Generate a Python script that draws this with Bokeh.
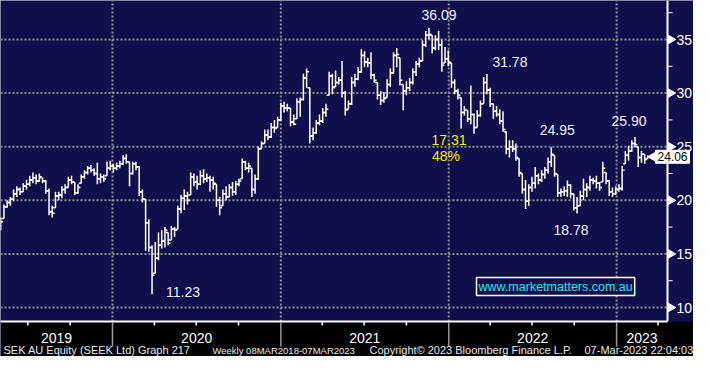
import numpy as np
import pandas as pd
from bokeh.plotting import figure
from bokeh.models import Range1d, Label, ColumnDataSource
from bokeh.core.properties import value
from bokeh.embed import file_html
from bokeh.resources import INLINE

# ---------------- data (weekly OHLC, SEK AU) ----------------
first_week = "2019-05-03"

opens = [
    17.6, 18.3, 19.4, 19.8, 20.1, 20.6, 21.0, 20.8, 21.3, 21.5, 21.9, 22.1, 21.8, 22.1, 21.8, 20.9, 18.9, 19.3, 20.4, 20.5,
    21.0, 21.2, 21.9, 21.7, 20.7, 21.6, 22.2, 22.6, 23.0, 22.8, 22.5, 22.0, 22.2, 22.3, 23.0,
    23.2, 23.0, 23.2, 23.4, 23.9, 23.6, 22.5, 23.4, 23.1, 20.8, 20.1, 17.9, 15.6, 13.2, 14.6, 15.8, 16.2, 17.0, 16.3, 17.3,
    17.3, 19.2, 20.2, 20.4, 20.5, 22.2, 21.7, 21.5, 22.3, 22.0, 22.1, 21.9, 21.5, 20.0,
    19.5, 20.6, 20.3, 21.2, 20.8, 21.5, 22.0, 23.6, 23.0, 23.0, 21.0, 22.0, 24.8, 25.3, 26.1, 25.9, 26.8, 26.8, 27.5, 28.8,
    28.6, 28.6, 27.3, 27.6, 29.2, 29.4, 31.4, 30.5, 26.0, 26.3, 27.2, 27.4, 28.2, 29.8,
    31.6, 30.6, 31.0, 31.2, 30.0, 28.5, 29.0, 31.0, 31.3, 32.0, 33.5, 32.9, 32.8, 31.7, 31.0, 29.8, 29.3, 29.6, 30.8, 31.9,
    33.5, 33.3, 30.8, 30.2, 30.5, 31.0, 32.0, 32.7, 33.0, 34.5, 35.4, 35.4, 34.2, 35.0, 34.5,
    32.8, 33.2, 32.8, 31.0, 30.2, 29.6, 28.2, 28.4, 27.6, 28.0, 26.8, 27.9, 29.0, 31.0, 30.3, 29.0, 28.3, 28.0, 27.4, 26.4,
    24.8, 25.0, 24.8, 23.9, 22.5, 21.0, 19.9, 21.2, 21.6, 22.3, 21.9, 22.4, 22.8, 23.6, 24.2, 22.4, 20.7, 20.8, 20.9, 21.4,
    20.6, 19.3, 19.5, 20.4, 21.0, 21.2, 21.9, 21.8, 21.6, 21.7, 22.6, 21.8, 20.8, 20.6, 21.0, 21.1, 23.4, 24.2, 24.6, 25.3,
    25.0, 24.0, 24.3, 23.9,
]
highs = [
    18.4, 19.6, 20.0, 20.3, 21.0, 21.3, 21.2, 21.6, 21.9, 22.3, 22.6, 22.4, 22.5, 22.1, 21.9, 21.1, 19.5, 20.8, 20.8, 21.3,
    21.5, 22.2, 22.3, 21.7, 21.5, 22.4, 22.8, 23.2, 23.3, 23.0, 23.5, 22.5, 22.4, 23.6, 23.7,
    23.4, 23.5, 23.7, 24.2, 24.3, 23.6, 23.6, 23.6, 23.2, 21.0, 20.1, 18.2, 15.8, 16.1, 17.0, 17.2, 17.5, 17.0, 17.6, 17.5,
    19.5, 20.5, 21.0, 20.8, 22.6, 22.5, 22.3, 22.8, 22.9, 22.5, 22.3, 22.2, 21.5, 20.3,
    21.0, 21.3, 21.5, 21.7, 21.8, 22.0, 23.9, 23.7, 23.5, 23.0, 22.4, 25.0, 25.5, 26.6, 26.6, 27.2, 27.5, 27.8, 29.1, 29.2,
    29.0, 28.6, 28.0, 29.5, 29.6, 31.8, 32.3, 30.5, 26.8, 27.5, 28.0, 28.6, 29.0, 32.0,
    31.8, 32.1, 31.5, 33.0, 30.2, 29.3, 31.5, 31.8, 32.4, 34.1, 33.9, 33.3, 33.8, 31.8, 31.0, 30.2, 30.1, 31.3, 32.3, 33.8,
    34.2, 33.3, 30.8, 31.1, 31.4, 32.3, 33.0, 33.3, 34.9, 35.8, 36.09, 35.4, 35.4, 35.8, 35.0,
    34.3, 34.0, 32.8, 31.3, 30.4, 29.6, 28.8, 28.4, 30.7, 28.1, 28.4, 29.3, 31.5, 31.78, 30.5, 29.0, 28.8, 28.5, 28.3, 26.4,
    25.6, 25.6, 25.3, 23.9, 22.5, 21.9, 21.5, 22.2, 23.1, 22.5, 22.8, 23.1, 24.0, 24.95, 24.2, 22.4, 21.1, 21.3, 21.85, 21.5,
    20.6, 20.3, 20.9, 22.0, 21.6, 22.3, 22.1, 22.3, 21.7, 23.6, 22.6, 21.9, 21.2, 21.3, 21.5, 23.2, 24.6, 25.1, 25.6, 25.90,
    25.0, 24.6, 24.3, 24.2,
]
lows = [
    17.2, 18.3, 19.3, 19.5, 19.9, 20.3, 20.5, 20.8, 21.0, 21.3, 21.6, 21.5, 21.7, 21.6, 20.6, 18.6, 18.4, 19.3, 20.0, 20.2,
    20.6, 21.2, 21.5, 20.5, 20.6, 21.6, 22.0, 22.4, 22.6, 22.3, 21.5, 21.6, 21.7, 22.3, 22.8,
    22.6, 22.8, 23.0, 23.3, 23.4, 21.3, 22.4, 22.8, 20.4, 19.8, 15.3, 15.2, 11.23, 13.2, 14.4, 15.5, 15.6, 15.8, 16.3, 16.6,
    17.3, 18.8, 19.1, 19.6, 20.5, 21.3, 21.0, 21.4, 21.6, 21.7, 20.8, 21.0, 19.4, 18.6,
    19.5, 20.0, 20.3, 20.4, 20.5, 21.3, 22.0, 22.8, 22.6, 20.3, 20.6, 21.9, 24.8, 25.3, 25.6, 25.8, 26.3, 26.8, 27.4, 28.2,
    28.3, 26.9, 27.0, 27.6, 27.8, 29.3, 30.5, 25.3, 25.6, 26.2, 27.0, 27.2, 27.8, 29.8,
    29.9, 30.6, 30.8, 29.6, 27.9, 28.5, 28.9, 30.6, 31.2, 31.9, 32.4, 32.4, 31.3, 31.0, 29.4, 28.9, 29.1, 29.6, 30.6, 31.8,
    32.4, 30.7, 28.4, 29.8, 30.2, 30.8, 31.6, 32.4, 33.0, 34.3, 35.0, 33.7, 34.0, 34.0, 32.0,
    32.8, 32.5, 30.5, 29.9, 29.4, 26.7, 27.9, 27.3, 27.1, 26.2, 26.8, 27.8, 29.0, 29.9, 28.7, 27.6, 27.8, 27.1, 26.4, 24.3,
    24.0, 24.5, 23.7, 22.2, 20.6, 19.2, 19.5, 20.8, 21.1, 21.5, 21.7, 22.0, 22.5, 23.1, 22.2, 20.3, 20.3, 20.4, 20.3, 20.2,
    19.05, 18.78, 19.5, 20.0, 20.3, 20.9, 21.5, 21.1, 20.9, 21.7, 21.5, 20.4, 20.3, 20.5, 20.8, 20.9, 23.4, 23.7, 24.5, 24.95,
    23.1, 23.5, 23.4, 23.9,
]
closes = [
    18.0, 19.4, 19.8, 20.1, 20.6, 21.0, 20.8, 21.3, 21.5, 21.9, 22.1, 21.8, 22.2, 21.8, 20.9, 18.9, 18.8, 20.4, 20.5, 21.0,
    21.2, 21.9, 21.7, 20.7, 21.2, 22.2, 22.6, 23.0, 22.8, 22.5, 22.0, 22.2, 22.0, 23.0, 23.2,
    23.0, 23.2, 23.4, 23.9, 23.6, 22.5, 23.4, 23.1, 20.8, 20.1, 17.9, 15.6, 13.0, 14.6, 15.8, 16.2, 17.2, 16.0, 17.3, 17.2,
    19.2, 20.2, 20.4, 20.0, 22.2, 21.7, 21.5, 22.3, 22.0, 22.1, 21.9, 21.6, 20.0, 19.3,
    20.6, 20.3, 21.2, 20.8, 21.5, 21.8, 23.6, 23.0, 23.2, 21.0, 22.0, 24.8, 25.3, 26.1, 25.9, 26.8, 26.7, 27.5, 28.8, 28.6,
    28.6, 27.3, 27.1, 29.2, 29.4, 31.4, 32.0, 26.0, 26.3, 27.2, 27.4, 28.2, 28.5, 31.6,
    30.5, 31.0, 31.2, 30.0, 28.4, 29.0, 31.0, 31.3, 32.0, 33.5, 32.9, 32.8, 31.7, 31.2, 29.8, 29.3, 29.5, 30.8, 31.9, 33.5,
    33.6, 31.2, 30.2, 30.5, 31.0, 32.0, 32.7, 33.0, 34.5, 35.4, 35.5, 34.2, 35.0, 34.5, 32.6,
    33.2, 32.9, 31.0, 30.2, 29.8, 28.2, 28.4, 27.6, 28.0, 26.8, 27.9, 29.0, 31.0, 30.3, 29.0, 28.3, 28.0, 27.4, 26.6, 24.8,
    25.0, 24.8, 24.0, 22.6, 21.0, 19.9, 21.2, 21.6, 22.3, 21.9, 22.4, 22.8, 23.6, 24.3, 22.5, 20.7, 20.8, 20.9, 21.4, 20.6,
    19.3, 19.5, 20.4, 21.0, 21.2, 21.9, 21.8, 21.6, 21.2, 23.0, 21.8, 20.8, 20.6, 21.0, 21.1, 22.8, 24.2, 24.6, 25.3, 25.2,
    24.0, 24.3, 23.8, 24.06,
]

y_ticks = [10, 15, 20, 25, 30, 35]
y_tick_labels = ["10", "15", "20", "25", "30", "35"]
y_minor_ticks = [12.5, 17.5, 22.5, 27.5, 32.5, 37.5]
year_labels = ["2019", "2020", "2021", "2022", "2023"]
year_starts = ["2020-01-01", "2021-01-01", "2022-01-01", "2023-01-01"]
quarter_ticks = ["2019-07-01", "2019-10-01", "2020-04-01", "2020-07-01", "2020-10-01",
                 "2021-04-01", "2021-07-01", "2021-10-01", "2022-04-01", "2022-07-01",
                 "2022-10-01", "2023-04-01"]

ann_text = ["36.09", "31.78", "24.95", "25.90", "18.78", "11.23"]
ann_week = [133, 151, 171, 197, 179, 47]
ann_price = [36.09, 31.78, 24.95, 25.90, 18.78, 11.23]
drop_text = ["17.31", "48%"]
last_price = "24.06"
footer = ["SEK AU Equity (SEEK Ltd) Graph 217", "Weekly 08MAR2018-07MAR2023",
          "Copyright\u00a9 2023 Bloomberg Finance L.P.", "07-Mar-2023 22:04:03"]
watermark = "www.marketmatters.com.au"

# ---------------- layout calibration (pixels of the picture) ----------------
W, H = 693, 356
PX_PER_YEAR = 168.0
MS_PER_PX = 365.25 * 86400000.0 / PX_PER_YEAR
PX_PER_UNIT = 10.72

def ms(s):
    return pd.Timestamp(s).value / 1e6

X0 = ms("2020-01-01") - 112 * MS_PER_PX

def px2x(px):          # picture x -> data x
    return X0 + px * MS_PER_PX

def px2y(py):          # picture y -> price
    return 35 - (py - 39) / PX_PER_UNIT

PLOT_R = 667           # right edge of price panel
PLOT_B = 321           # bottom edge of price panel

NAVY = "#100f4c"
GRID = "#8f8f8f"
FONT = "Liberation Sans"

dates = pd.date_range(first_week, periods=len(closes), freq="7D")
t = dates.values.astype("datetime64[ms]").astype("int64").astype(float)
tick = 2.4 * MS_PER_PX

p = figure(width=W, height=H, x_range=Range1d(px2x(0), px2x(W)), y_range=Range1d(px2y(H), px2y(0)),
           output_backend="svg", toolbar_location=None, x_axis_location=None,
           y_axis_location=None, min_border=0)
p.background_fill_color = NAVY
p.border_fill_color = NAVY
p.outline_line_color = None
p.xgrid.visible = False
p.ygrid.visible = False

x_left, x_right = px2x(0), px2x(PLOT_R - 1)
y_bottom, y_top = px2y(PLOT_B), px2y(0)

# grid (dotted)
p.segment(x0=[x_left] * len(y_ticks), y0=y_ticks, x1=[x_right] * len(y_ticks), y1=y_ticks,
          line_color=GRID, line_width=2, line_dash="2 2")
ys = [ms(s) for s in year_starts]
p.segment(x0=ys, y0=[y_bottom] * len(ys), x1=ys, y1=[y_top] * len(ys),
          line_color=GRID, line_width=2, line_dash="2 2")

# OHLC bars
src = ColumnDataSource(dict(t=t, t_l=t - tick, t_r=t + tick,
                            o=opens, h=highs, l=lows, c=closes))
p.segment(x0="t", y0="l", x1="t", y1="h", source=src, line_color="white", line_width=1.5)
p.segment(x0="t_l", y0="o", x1="t", y1="o", source=src, line_color="white", line_width=1.5)
p.segment(x0="t", y0="c", x1="t_r", y1="c", source=src, line_color="white", line_width=1.5)

# right price axis
ax_x = px2x(PLOT_R)
p.segment(x0=[ax_x], y0=[y_bottom], x1=[ax_x], y1=[y_top], line_color="white", line_width=2)
p.scatter(x=[px2x(PLOT_R + 3)] * len(y_ticks), y=y_ticks, marker="triangle", size=9,
          angle=-np.pi / 2, fill_color="white", line_color="white")
p.segment(x0=[ax_x] * len(y_minor_ticks), y0=y_minor_ticks, x1=[px2x(PLOT_R + 5)] * len(y_minor_ticks),
          y1=y_minor_ticks, line_color="white", line_width=1)
p.text(x=[px2x(PLOT_R + 9)] * len(y_ticks), y=y_ticks, text=y_tick_labels, text_color="white",
       text_font=value(FONT), text_font_size="14px", text_align="left", text_baseline="middle")

# high / low annotations
ann_dx = [10, 23, 6, -6, -6, 31]
ann_dy = [-13, -12, -17, -16, 17, -2]
ann_src = ColumnDataSource(dict(x=[t[i] for i in ann_week], y=ann_price, text=ann_text,
                                dx=ann_dx, dy=ann_dy))
p.text(x="x", y="y", text="text", source=ann_src, x_offset="dx", y_offset="dy",
       text_color="#eef0ff", text_font=value(FONT), text_font_size="14px",
       text_align="center", text_baseline="middle")

pk = ann_week[0]
drop_src = ColumnDataSource(dict(x=[t[pk], t[pk]], y=[ann_price[0], ann_price[0]], text=drop_text,
                                 dx=[20, 17], dy=[112, 128]))
p.text(x="x", y="y", text="text", source=drop_src, x_offset="dx", y_offset="dy",
       text_color="#f2f200", text_font=value(FONT), text_font_size="14px",
       text_align="center", text_baseline="middle")

p.add_layout(Label(x=px2x(476), y=px2y(286), text=watermark, text_color="#20e8f0",
                   text_font=FONT, text_font_size="12.5px", text_align="left",
                   text_baseline="middle", background_fill_color=NAVY,
                   border_line_color="white", border_line_width=1.5, padding=2))

# last price tag
p.scatter(x=[px2x(653)], y=[closes[-1]], marker="triangle", size=10, angle=np.pi / 2,
          fill_color="white", line_color="white")
p.add_layout(Label(x=px2x(689), y=closes[-1], text=last_price, text_color="black",
                   text_font=FONT, text_font_size="12px", text_align="right",
                   text_baseline="middle", background_fill_color="white",
                   border_line_color="white", border_line_width=1, padding=2))

# ---------------- bottom strip: time axis + footer ----------------
p.quad(left=[px2x(0)], right=[px2x(W)], bottom=[px2y(H)], top=[y_bottom],
       fill_color="black", line_color=None)
p.segment(x0=[x_left], y0=[y_bottom], x1=[ax_x], y1=[y_bottom], line_color="white", line_width=2)
qt = [ms(s) for s in quarter_ticks]
p.segment(x0=qt, y0=[y_bottom] * len(qt), x1=qt, y1=[px2y(PLOT_B + 4)] * len(qt),
          line_color="white", line_width=1.5)
p.segment(x0=ys, y0=[px2y(PLOT_B + 1)] * len(ys), x1=ys, y1=[px2y(PLOT_B + 25)] * len(ys),
          line_color="#9a9a9a", line_width=1.5)

bounds = [px2x(0)] + ys + [ax_x]
centers = [(bounds[i] + bounds[i + 1]) / 2 for i in range(len(year_labels))]
p.text(x=centers, y=[px2y(337)] * len(centers), text=year_labels, text_color="white",
       text_font=value(FONT), text_font_size="14px", text_align="center", text_baseline="middle")

p.text(x=[px2x(3), px2x(369), px2x(584)], y=[px2y(349.5)] * 3,
       text=[footer[0], footer[2], footer[3]], text_color="#e8e8e8",
       text_font=value(FONT), text_font_size="11px", text_align="left", text_baseline="middle")
p.text(x=[px2x(212)], y=[px2y(349.5)], text=[footer[1]], text_color="#e8e8e8",
       text_font=value(FONT), text_font_size="9.5px", text_align="left", text_baseline="middle")

open("out.html", "w").write(file_html(p, INLINE))
